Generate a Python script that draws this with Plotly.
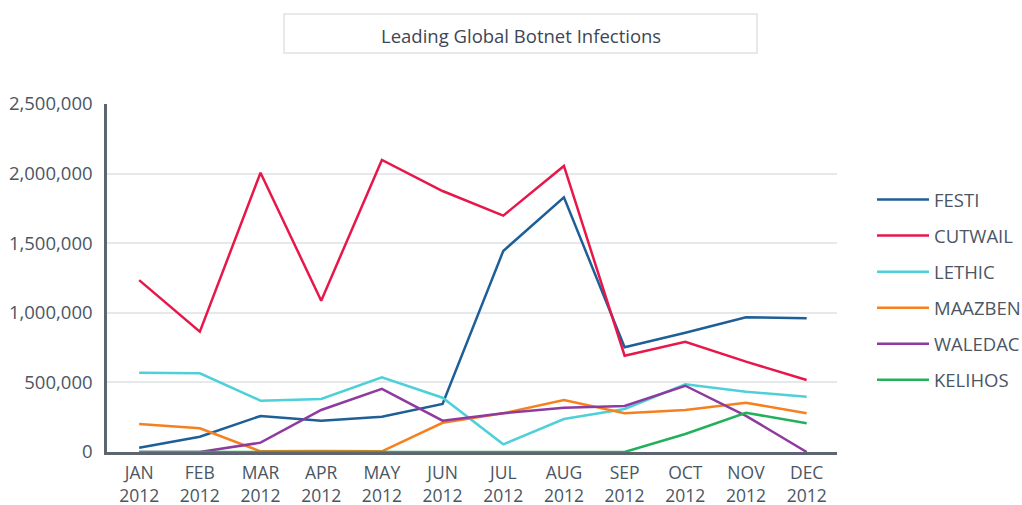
import plotly.graph_objects as go

months = ["JAN<br>2012", "FEB<br>2012", "MAR<br>2012", "APR<br>2012", "MAY<br>2012", "JUN<br>2012",
          "JUL<br>2012", "AUG<br>2012", "SEP<br>2012", "OCT<br>2012", "NOV<br>2012", "DEC<br>2012"]

festi   = [31000, 110000, 259000, 225000, 254000, 345000, 1444000, 1830000, 752000, 857000, 968000, 960000]
cutwail = [1235000, 864000, 2006000, 1087000, 2098000, 1875000, 1698000, 2055000, 692000, 792000, 649000, 517000]
lethic  = [570000, 565000, 369000, 381000, 537000, 390000, 55000, 237000, 309000, 486000, 433000, 397000]
maazben = [201000, 170000, 5000, 8000, 5000, 210000, 278000, 374000, 278000, 302000, 354000, 278000]
waledac = [0, 0, 67000, 302000, 453000, 225000, 278000, 318000, 330000, 476000, 260000, 0]
kelihos = [0, 0, 0, 0, 0, 0, 0, 0, 0, 129000, 282000, 206000]

series = [
    ("FESTI", festi, "#1d5f96"),
    ("CUTWAIL", cutwail, "#e8174a"),
    ("LETHIC", lethic, "#4dd0d8"),
    ("MAAZBEN", maazben, "#f7801e"),
    ("WALEDAC", waledac, "#8e3a9e"),
    ("KELIHOS", kelihos, "#22b05a"),
]

fig = go.Figure()
x = list(range(len(months)))
for i, (name, vals, color) in enumerate(series):
    fig.add_trace(go.Scatter(
        x=x, y=vals, name=name, mode="lines",
        line=dict(color=color, width=2.5),
        legendgroup=name, legendrank=i + 1,
    ))

font_family = "Open Sans, Noto Sans, sans-serif"
tick_color = "#4b5664"
fs = 18.5

fig.update_layout(
    width=1022, height=505,
    margin=dict(l=107, r=185, t=104, b=53, autoexpand=False),
    paper_bgcolor="white", plot_bgcolor="white",
    font=dict(family=font_family, size=fs, color=tick_color),
    showlegend=True,
    legend=dict(xref="container", yref="container",
                x=872 / 1022, y=1 - 181 / 505, xanchor="left", yanchor="top",
                font=dict(size=fs, color=tick_color),
                tracegroupgap=9, itemwidth=52, bgcolor="rgba(0,0,0,0)"),
    xaxis=dict(
        tickmode="array", tickvals=x, ticktext=months,
        range=[-0.53, 11.5], automargin=False,
        showgrid=False, zeroline=False, layer="below traces",
        showline=True, linecolor="#5d6670", linewidth=2.5,
        ticks="", ticklabelstandoff=3, tickfont=dict(size=17.5, color=tick_color),
    ),
    yaxis=dict(
        range=[0, 2500000], tickvals=[0, 500000, 1000000, 1500000, 2000000, 2500000],
        tickformat=",d", automargin=False,
        showgrid=True, gridcolor="#e6e9eb", gridwidth=1.5,
        zeroline=False,
        showline=True, linecolor="#5d6670", linewidth=2.5,
        ticks="", ticklabelstandoff=8,
        tickfont=dict(size=fs, color=tick_color),
    ),
    shapes=[dict(type="rect", xref="paper", yref="paper",
                 x0=(284 - 107) / 730, x1=(757 - 107) / 730,
                 y0=(452 - 53) / 348, y1=(452 - 14) / 348,
                 line=dict(color="#dfe2e4", width=1.5), fillcolor="white", layer="below")],
    annotations=[dict(text="Leading Global Botnet Infections", xref="paper", yref="paper",
                      x=(521 - 107) / 730, y=(452 - 35) / 348, xanchor="center", yanchor="middle",
                      showarrow=False, font=dict(size=fs, color="#3d4654"))],
)

fig.write_html("out.html")
